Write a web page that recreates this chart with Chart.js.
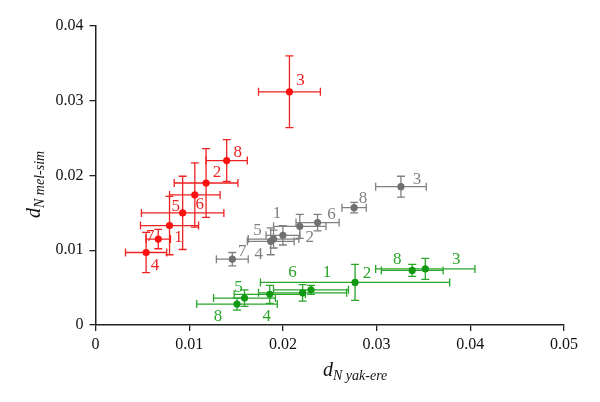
<!DOCTYPE html>
<html>
<head>
<meta charset="utf-8">
<title>dN scatter</title>
<script src="https://cdn.jsdelivr.net/npm/chart.js@4.4.1/dist/chart.umd.min.js"></script>
<style>
  html, body { margin: 0; padding: 0; background: #fff; }
  #wrap { width: 600px; height: 402px; position: relative; }
</style>
</head>
<body>
<div id="wrap"><canvas id="chart"></canvas></div>
<script>
// Axis ticks
const xTicks = [0, 0.01, 0.02, 0.03, 0.04, 0.05];
const xTickLabels = ['0', '0.01', '0.02', '0.03', '0.04', '0.05'];
const yTicks = [0, 0.01, 0.02, 0.03, 0.04];
const yTickLabels = ['0', '0.01', '0.02', '0.03', '0.04'];

// Red series
const redLabels = ['3', '8', '2', '6', '5', '1', '7', '4'];
const redX = [0.0207, 0.0140, 0.0118, 0.0106, 0.0093, 0.0079, 0.0067, 0.0054];
const redY = [0.0312, 0.0220, 0.0190, 0.0174, 0.0150, 0.0133, 0.0115, 0.0097];
const redXErr = [0.0033, 0.0022, 0.0034, 0.0027, 0.0044, 0.0031, 0.0013, 0.0022];
const redYErr = [0.0048, 0.0028, 0.0046, 0.0043, 0.0049, 0.0039, 0.0013, 0.0027];

// Gray series
const grayLabels = ['3', '8', '6', '2', '1', '5', '4', '7'];
const grayX = [0.0326, 0.0276, 0.0237, 0.0218, 0.0200, 0.0190, 0.0187, 0.0146];
const grayY = [0.0185, 0.0157, 0.0137, 0.0132, 0.0120, 0.0115, 0.0112, 0.0088];
const grayXErr = [0.0027, 0.0013, 0.0023, 0.0028, 0.0018, 0.0027, 0.0025, 0.0017];
const grayYErr = [0.0014, 0.0007, 0.0011, 0.0016, 0.0013, 0.0012, 0.0018, 0.0009];

// Green series
const greenLabels = ['3', '8', '2', '1', '6', '4', '5', '8'];
const greenX = [0.0352, 0.0338, 0.0277, 0.0230, 0.0221, 0.0186, 0.0159, 0.0151];
const greenY = [0.0075, 0.0073, 0.0057, 0.0047, 0.0043, 0.0041, 0.0036, 0.0028];
const greenXErr = [0.0053, 0.0033, 0.0101, 0.0040, 0.0047, 0.0038, 0.0033, 0.0043];
const greenYErr = [0.0014, 0.0008, 0.0024, 0.0006, 0.0011, 0.0012, 0.0011, 0.0008];

// Label placement next to each point (px offsets)
const redLabelOffset = [[11, -11], [11, -8], [11, -10], [5, 10], [-7, -6], [9, 12], [-8, -3], [9, 13]];
const grayLabelOffset = [[16, -7], [9, -9], [14, -8], [10, 11], [-6, -22], [-16, -9], [-12, 13], [10, -8]];
const greenLabelOffset = [[31, -9], [-15, -11], [12, -9], [16, -17], [-10, -20], [-3, 22], [-6, -11], [-19, 12]];

const SERIF = '"Liberation Serif", "DejaVu Serif", serif';

function buildDataset(xs, ys, xErr, yErr, labels, offsets, color, barColor) {
  return {
    data: xs.map((x, i) => ({ x: x, y: ys[i] })),
    xErr: xErr,
    yErr: yErr,
    pointLabels: labels,
    labelOffsets: offsets,
    barColor: barColor,
    backgroundColor: color,
    borderColor: color,
    pointRadius: 3.6,
    pointBorderWidth: 0
  };
}

// Error bars under the points
const errorBarPlugin = {
  id: 'errorBars',
  beforeDatasetsDraw(chart) {
    const ctx = chart.ctx;
    const xs = chart.scales.x, ys = chart.scales.y;
    const cap = 4;
    ctx.save();
    ctx.lineWidth = 1.3;
    chart.data.datasets.forEach(ds => {
      ctx.strokeStyle = ds.barColor;
      ds.data.forEach((p, i) => {
        const px = xs.getPixelForValue(p.x), py = ys.getPixelForValue(p.y);
        const x1 = xs.getPixelForValue(p.x - ds.xErr[i]);
        const x2 = xs.getPixelForValue(p.x + ds.xErr[i]);
        const y1 = ys.getPixelForValue(p.y - ds.yErr[i]);
        const y2 = ys.getPixelForValue(p.y + ds.yErr[i]);
        ctx.beginPath();
        ctx.moveTo(x1, py); ctx.lineTo(x2, py);
        ctx.moveTo(x1, py - cap); ctx.lineTo(x1, py + cap);
        ctx.moveTo(x2, py - cap); ctx.lineTo(x2, py + cap);
        ctx.moveTo(px, y1); ctx.lineTo(px, y2);
        ctx.moveTo(px - cap, y1); ctx.lineTo(px + cap, y1);
        ctx.moveTo(px - cap, y2); ctx.lineTo(px + cap, y2);
        ctx.stroke();
      });
    });
    ctx.restore();
  },
  afterDatasetsDraw(chart) {
    // Numbers beside points
    const ctx = chart.ctx;
    const xs = chart.scales.x, ys = chart.scales.y;
    ctx.save();
    ctx.font = '17px ' + SERIF;
    ctx.textAlign = 'center';
    ctx.textBaseline = 'middle';
    chart.data.datasets.forEach(ds => {
      ctx.fillStyle = ds.barColor;
      ds.data.forEach((p, i) => {
        const off = ds.labelOffsets[i];
        ctx.fillText(ds.pointLabels[i], xs.getPixelForValue(p.x) + off[0], ys.getPixelForValue(p.y) + off[1]);
      });
    });
    ctx.restore();
  }
};

// Italic axis titles with subscripts
const axisTitlePlugin = {
  id: 'axisTitles',
  afterDraw(chart) {
    const ctx = chart.ctx;
    ctx.save();
    ctx.fillStyle = '#111';
    ctx.textBaseline = 'alphabetic';
    ctx.textAlign = 'left';
    // x title
    const area = chart.chartArea;
    let x = 323, y = 376;
    ctx.font = 'italic 20px ' + SERIF;
    ctx.fillText('d', x, y);
    x += ctx.measureText('d').width;
    ctx.font = 'italic 14px ' + SERIF;
    ctx.fillText('N yak-ere', x, y + 4);
    // y title
    ctx.translate(40, 218);
    ctx.rotate(-Math.PI / 2);
    ctx.font = 'italic 20px ' + SERIF;
    ctx.fillText('d', 0, 0);
    const w = ctx.measureText('d').width;
    ctx.font = 'italic 14px ' + SERIF;
    ctx.fillText('N mel-sim', w, 4);
    ctx.restore();
  }
};

function initializeChart() {
  const ctx = document.getElementById('chart');
  new Chart(ctx, {
    type: 'scatter',
    data: {
      datasets: [
        buildDataset(redX, redY, redXErr, redYErr, redLabels, redLabelOffset, '#ff1010', '#ee2222'),
        buildDataset(grayX, grayY, grayXErr, grayYErr, grayLabels, grayLabelOffset, '#707070', '#808080'),
        buildDataset(greenX, greenY, greenXErr, greenYErr, greenLabels, greenLabelOffset, '#119911', '#2aa52a')
      ]
    },
    options: {
      responsive: true,
      maintainAspectRatio: false,
      animation: false,
      layout: { padding: { top: 26, right: 36, left: 0, bottom: 0 } },
      plugins: {
        legend: { display: false },
        tooltip: { enabled: false }
      },
      scales: {
        x: {
          type: 'linear',
          min: 0,
          max: 0.05,
          afterBuildTicks: axis => { axis.ticks = xTicks.map(v => ({ value: v })); },
          afterFit: axis => { axis.height = 77; },
          ticks: {
            color: '#111',
            font: { family: SERIF, size: 16 },
            padding: 4,
            maxRotation: 0,
            callback: (v, i) => xTickLabels[i]
          },
          grid: { drawOnChartArea: false, drawTicks: true, tickLength: 6, color: '#222', lineWidth: 1.3 },
          border: { display: true, color: '#222', width: 1.5 }
        },
        y: {
          type: 'linear',
          min: 0,
          max: 0.04,
          afterBuildTicks: axis => { axis.ticks = yTicks.map(v => ({ value: v })); },
          afterFit: axis => { axis.width = 95.5; },
          ticks: {
            color: '#111',
            font: { family: SERIF, size: 16 },
            padding: 6,
            callback: (v, i) => yTickLabels[i]
          },
          grid: { drawOnChartArea: false, drawTicks: true, tickLength: 6, color: '#222', lineWidth: 1.3 },
          border: { display: true, color: '#222', width: 1.5 }
        }
      }
    },
    plugins: [errorBarPlugin, axisTitlePlugin]
  });
}

document.addEventListener('DOMContentLoaded', initializeChart);
</script>
</body>
</html>
